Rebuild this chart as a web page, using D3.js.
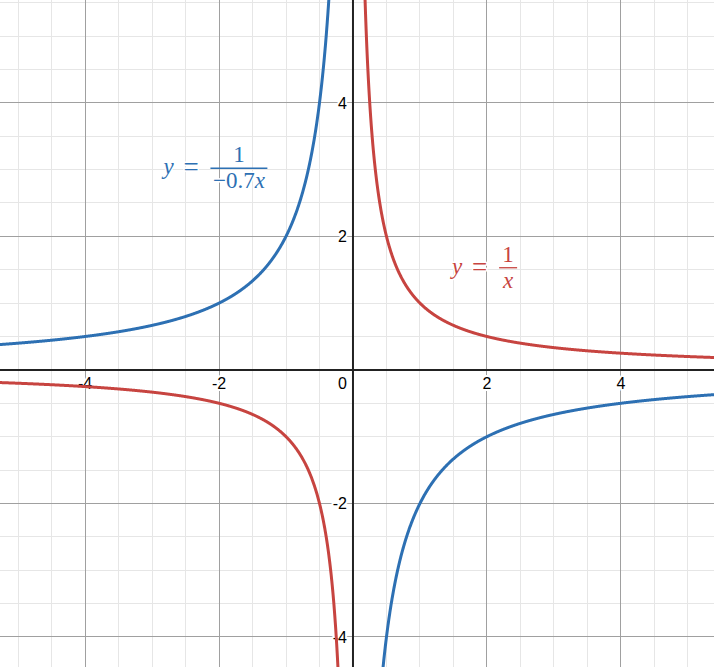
<!DOCTYPE html>
<html>
<head>
<meta charset="utf-8">
<script src="https://cdn.jsdelivr.net/npm/d3@7"></script>
<style>
  body { margin: 0; background: #fff; }
  svg { display: block; }
</style>
</head>
<body>
<div id="chart"></div>
<script>
// visible window of the graph
const xDomain = [-5.27, 5.39];
const yDomain = [-4.45, 5.54];

const xTicks = [-4, -2, 2, 4];
const yTicks = [4, 2, -2, -4];

// curves y = 1 / (k * x)
const curveNames = ["red", "blue"];
const curveK = [1, -0.5];
const curveColors = ["#c74440", "#2d70b3"];

// equation labels: anchor point (data coords), denominator text
const labelX = [1.48, -2.83];
const labelY = [1.53, 3.02];
const labelDenoms = [["x"], ["−0.7", "x"]];

const width = 714;
const height = 667;

const svg = d3.select('#chart')
  .append('svg')
  .attr('width', width)
  .attr('height', height);

const x = d3.scaleLinear().domain(xDomain).range([0, width]);
const y = d3.scaleLinear().domain(yDomain).range([height, 0]);

// minor grid every 0.5
const minorX = d3.range(Math.ceil(xDomain[0] * 2) / 2, xDomain[1], 0.5).filter(d => d % 2 !== 0);
const minorY = d3.range(Math.ceil(yDomain[0] * 2) / 2, yDomain[1], 0.5).filter(d => d % 2 !== 0);
const majorX = d3.range(-4, 6, 2).filter(d => d !== 0);
const majorY = d3.range(-4, 6, 2).filter(d => d !== 0);

const grid = svg.append('g').attr('shape-rendering', 'crispEdges');
grid.selectAll('.mx').data(minorX).join('line')
  .attr('x1', d => x(d)).attr('x2', d => x(d))
  .attr('y1', 0).attr('y2', height)
  .attr('stroke', '#e6e6e6').attr('stroke-width', 1);
grid.selectAll('.my').data(minorY).join('line')
  .attr('y1', d => y(d)).attr('y2', d => y(d))
  .attr('x1', 0).attr('x2', width)
  .attr('stroke', '#e6e6e6').attr('stroke-width', 1);
grid.selectAll('.Mx').data(majorX).join('line')
  .attr('x1', d => x(d)).attr('x2', d => x(d))
  .attr('y1', 0).attr('y2', height)
  .attr('stroke', '#a0a0a0').attr('stroke-width', 1);
grid.selectAll('.My').data(majorY).join('line')
  .attr('y1', d => y(d)).attr('y2', d => y(d))
  .attr('x1', 0).attr('x2', width)
  .attr('stroke', '#a0a0a0').attr('stroke-width', 1);

// axes
svg.append('line')
  .attr('x1', 0).attr('x2', width)
  .attr('y1', y(0)).attr('y2', y(0))
  .attr('stroke', '#222').attr('stroke-width', 2);
svg.append('line')
  .attr('y1', 0).attr('y2', height)
  .attr('x1', x(0)).attr('x2', x(0))
  .attr('stroke', '#222').attr('stroke-width', 2);

// tick labels with white halo
const tickFont = '"Liberation Sans", Arial, sans-serif';
function halo(sel) {
  sel.attr('stroke', '#fff').attr('stroke-width', 4)
    .attr('stroke-linejoin', 'round').attr('paint-order', 'stroke');
}
svg.append('g').selectAll('text').data(xTicks).join('text')
  .attr('x', d => x(d)).attr('y', y(0) + 19)
  .attr('text-anchor', 'middle')
  .attr('font-family', tickFont).attr('font-size', 16)
  .attr('fill', '#000')
  .call(halo)
  .text(d => d < 0 ? '-' + Math.abs(d) : d);
svg.append('g').selectAll('text').data(yTicks).join('text')
  .attr('x', x(0) - 6).attr('y', d => y(d) + 6)
  .attr('text-anchor', 'end')
  .attr('font-family', tickFont).attr('font-size', 16)
  .attr('fill', '#000')
  .call(halo)
  .text(d => d < 0 ? '-' + Math.abs(d) : d);
svg.append('text')
  .attr('x', x(0) - 6).attr('y', y(0) + 19)
  .attr('text-anchor', 'end')
  .attr('font-family', tickFont).attr('font-size', 16)
  .attr('fill', '#000')
  .call(halo)
  .text('0');

// curves
const line = d3.line().x(d => x(d[0])).y(d => y(d[1]));
svg.append('clipPath').attr('id', 'clip')
  .append('rect').attr('width', width).attr('height', height);
const curves = svg.append('g').attr('clip-path', 'url(#clip)');

curveK.forEach((k, i) => {
  const xMin = 1 / (12 * Math.abs(k)); // |y| up to 12
  const branches = [
    d3.range(xMin, xDomain[1] + 0.05, 0.004),
    d3.range(xDomain[0] - 0.05, -xMin, 0.004).concat([-xMin])
  ];
  branches.forEach(xs => {
    const pts = xs.map(v => [v, 1 / (k * v)]);
    curves.append('path')
      .datum(pts)
      .attr('d', line)
      .attr('fill', 'none')
      .attr('stroke', curveColors[i])
      .attr('stroke-width', 3)
      .attr('class', 'curve-' + curveNames[i]);
  });
});

// equation labels  y = 1 / (denominator)
const mathFont = '"Liberation Serif", "Times New Roman", serif';
labelX.forEach((lx, i) => {
  const px = x(lx);
  const barY = y(labelY[i]);
  const col = curveColors[i];
  const g = svg.append('g')
    .attr('fill', col)
    .attr('font-family', mathFont)
    .attr('font-size', 23);

  g.append('text')
    .attr('x', px).attr('y', barY + 6)
    .attr('font-style', 'italic')
    .call(halo).attr('stroke-width', 3)
    .text('y');
  g.append('text')
    .attr('x', px + 20).attr('y', barY + 8)
    .attr('font-size', 27)
    .call(halo).attr('stroke-width', 3)
    .text('=');

  const den = labelDenoms[i];
  const denText = g.append('text')
    .attr('y', barY + 20)
    .attr('text-anchor', 'middle')
    .call(halo).attr('stroke-width', 3);
  den.forEach(part => {
    denText.append('tspan')
      .attr('font-style', /^[a-z]$/.test(part) ? 'italic' : 'normal')
      .text(part);
  });
  const denW = denText.node().getComputedTextLength();
  const barW = Math.max(denW + 5, 18);
  const barX = px + 47;
  denText.attr('x', barX + barW / 2);

  g.append('line')
    .attr('x1', barX).attr('x2', barX + barW)
    .attr('y1', barY).attr('y2', barY)
    .attr('stroke', col).attr('stroke-width', 1.3);
  g.append('text')
    .attr('x', barX + barW / 2).attr('y', barY - 6)
    .attr('text-anchor', 'middle')
    .call(halo).attr('stroke-width', 3)
    .text('1');
});
</script>
</body>
</html>
